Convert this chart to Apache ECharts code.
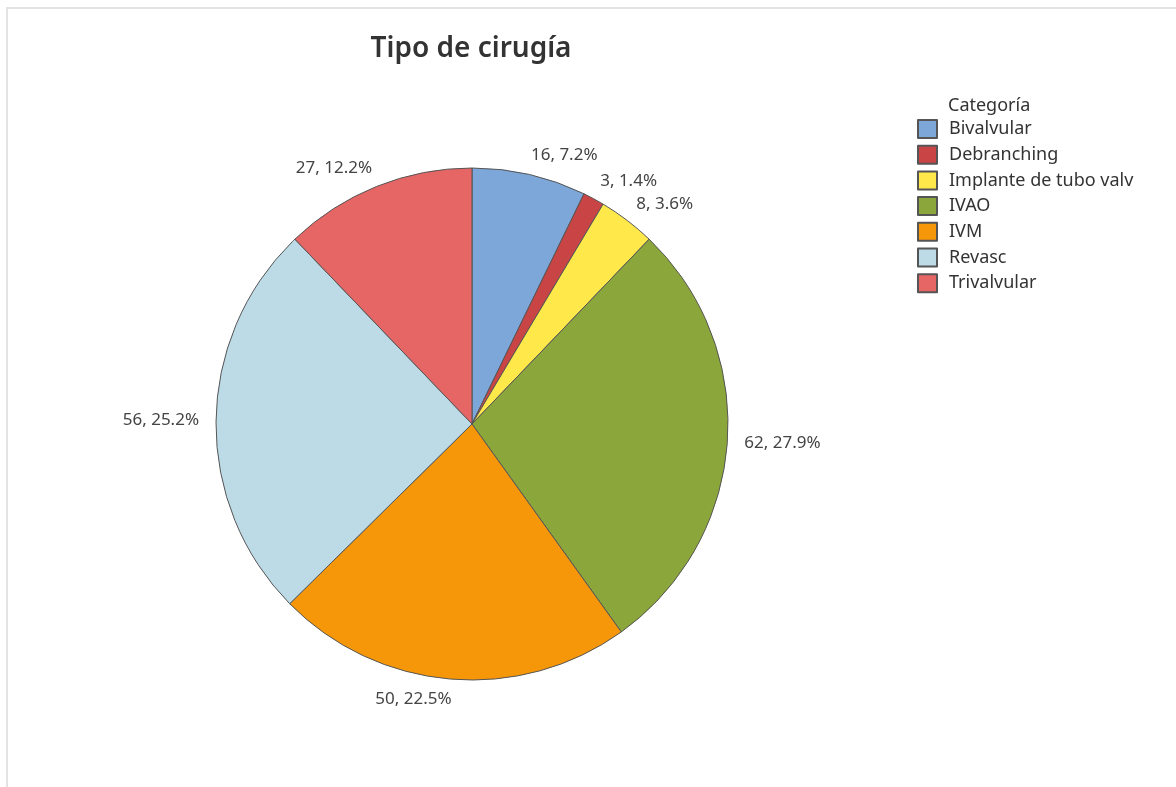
<!DOCTYPE html>
<html>
<head>
<meta charset="utf-8">
<script src="https://cdn.jsdelivr.net/npm/echarts@6/dist/echarts.min.js"></script>
<style>
html,body{margin:0;padding:0;background:#fff;}
#frame{position:absolute;left:6px;top:7px;width:1170px;height:780px;border-left:2px solid #e3e3e3;border-top:2px solid #e3e3e3;box-sizing:border-box;}
#chart{position:absolute;left:0;top:0;width:1176px;height:787px;}
</style>
</head>
<body>
<div id="frame"></div>
<div id="chart"></div>
<script>
const categories = ["Bivalvular", "Debranching", "Implante de tubo valv", "IVAO", "IVM", "Revasc", "Trivalvular"];
const counts = [16, 3, 8, 62, 50, 56, 27];
const colors = ["#7DA7D9", "#C94444", "#FFE94A", "#8BA63A", "#F59708", "#BDDBE6", "#E66666"];

const total = counts.reduce((a, b) => a + b, 0);
const chart = echarts.init(document.getElementById('chart'), null, {renderer: 'canvas'});
const font = "'Noto Sans', 'Open Sans', sans-serif";

chart.setOption({
  animation: false,
  backgroundColor: 'transparent',
  title: [
    {text: 'Tipo de cirugía', left: 466, top: 30, textAlign: 'center',
     textStyle: {fontFamily: font, fontSize: 28, fontWeight: 600, color: '#333'}},
    {text: 'Categoría', left: 948, top: 97, padding: 0,
     textStyle: {fontFamily: font, fontSize: 18, fontWeight: 'normal', color: '#333'}}
  ],
  legend: {
    orient: 'vertical', left: 917, top: 119, padding: 0,
    itemWidth: 19, itemHeight: 18, itemGap: 5.7,
    icon: 'rect', selectedMode: false,
    textStyle: {fontFamily: font, fontSize: 18, lineHeight: 18, height: 18, color: '#333', padding: [0, 0, 0, 7]},
    data: categories
  },
  series: [{
    type: 'pie',
    center: [472, 424],
    radius: 256,
    startAngle: 90,
    clockwise: true,
    avoidLabelOverlap: false,
    itemStyle: {borderColor: '#555', borderWidth: 1},
    emphasis: {disabled: true},
    label: {
      show: true, position: 'outside',
      fontFamily: font, fontSize: 17, color: '#444',
      formatter: p => p.value + ', ' + (p.value / total * 100).toFixed(1) + '%'
    },
    labelLine: {show: false, length: 20, length2: -8},
    data: categories.map((c, i) => ({name: c, value: counts[i], itemStyle: {color: colors[i]}}))
  }]
});
</script>
</body>
</html>
